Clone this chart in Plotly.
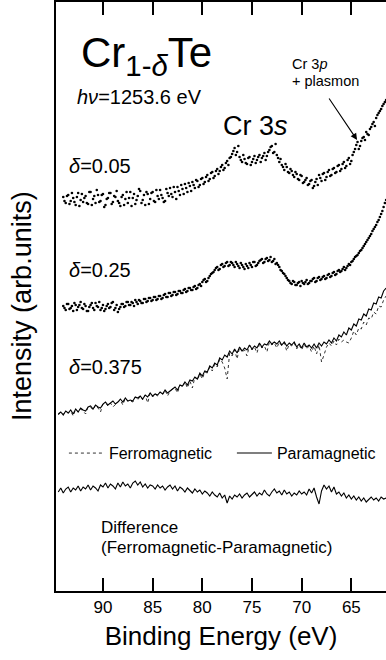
import numpy as np
import plotly.graph_objects as go

# Binding-energy grid (eV), 0.25 eV steps from 94.5 down to 61.5
energy = np.round(np.arange(94.5, 61.49, -0.25), 3)
# second (interleaved) scan for the dotted spectra, shifted by half a step
energy_b = np.round(energy - 0.125, 3)

# delta = 0.05 (dots), arb. units
d005 = [None, None,
        39.4, 38.8, 39.6, 39.0, 39.3, 38.6, 39.8, 39.1,
        38.9, 39.5, 38.7, 39.9, 39.2, 38.8, 39.6, 39.0, 39.7, 38.6,
        39.3, 39.8, 38.9, 39.4, 39.0, 38.5, 39.6, 39.2, 38.8, 39.9,
        39.3, 38.7, 39.5, 40.0, 39.1, 38.6, 39.7, 39.2, 39.9, 38.9,
        39.5, 40.1, 39.3, 39.0, 39.8, 40.3, 39.4, 39.9, 40.4, 39.6,
        40.2, 40.7, 39.9, 40.5, 40.9, 40.3, 41.0, 40.6, 41.3, 40.9,
        41.6, 41.2, 41.9, 41.5, 42.2, 42.0, 42.6, 42.3, 43.0, 43.3,
        43.7, 44.3, 43.9, 43.4, 42.9, 43.2, 42.7, 43.4, 42.9, 43.5,
        43.1, 43.6, 43.3, 43.8, 43.5, 44.1, 44.5, 43.9, 43.6, 42.9,
        42.6, 42.1, 42.4, 41.8, 42.0, 41.4, 41.7, 41.1, 41.5, 40.9,
        41.3, 40.7, 41.1, 40.5, 41.2, 41.6, 41.0, 41.8, 41.4, 42.1,
        41.6, 42.3, 41.9, 42.6, 42.2, 42.9, 42.5, 43.3, 43.0, 43.9,
        44.6, 44.2, 45.0, 45.4, 45.9, 45.6, 46.4, 46.9, 47.3, 47.8,
        48.2, 48.7, 49.1]
d005_b = [None, None,
          39.0, 39.5, 38.7, 39.8, 38.9, 39.4, 38.5, 39.7,
          39.3, 38.8, 39.9, 38.6, 39.5, 40.1, 38.9, 39.6, 38.4, 39.2,
          39.8, 38.7, 39.5, 40.0, 38.8, 39.4, 38.6, 39.9, 39.3, 38.5,
          39.7, 39.1, 40.2, 38.8, 39.6, 39.9, 38.7, 39.8, 39.0, 40.1,
          39.2, 39.6, 38.9, 40.2, 39.5, 39.7, 40.4, 39.2, 40.0, 40.6,
          39.7, 40.3, 40.8, 40.0, 40.6, 41.1, 40.4, 41.2, 40.7, 41.4,
          41.0, 41.8, 41.3, 42.0, 41.7, 42.4, 42.1, 42.8, 42.6, 43.4,
          44.0, 43.6, 44.5, 43.1, 43.6, 42.8, 43.3, 42.6, 43.2, 42.8,
          43.4, 42.9, 43.5, 43.1, 43.9, 44.4, 43.8, 44.7, 43.3, 43.2,
          42.4, 42.7, 41.9, 42.2, 41.6, 41.9, 41.2, 41.6, 40.8, 41.1,
          40.6, 41.0, 40.3, 40.9, 40.6, 41.3, 41.7, 41.1, 41.9, 41.5,
          42.2, 41.8, 42.5, 42.0, 42.7, 42.3, 43.1, 42.7, 43.6, 44.2,
          44.9, 44.5, 45.3, 45.1, 45.7, 46.2, 46.7, 46.5, 47.6, 48.0,
          48.5, 48.9, None]

# delta = 0.25 (dots)
d025 = [None, None,
        28.5, 28.1, 28.7, 28.3, 28.0, 28.6, 28.4, 28.9,
        28.2, 28.5, 28.0, 28.6, 28.3, 28.8, 28.4, 28.1, 28.6, 28.2,
        28.7, 28.4, 28.9, 28.3, 27.9, 28.4, 28.7, 28.5, 28.9, 28.6,
        28.8, 29.1, 28.7, 29.0, 28.8, 29.2, 29.0, 29.3, 29.1, 29.4,
        29.2, 29.5, 29.3, 29.7, 29.4, 29.8, 29.6, 29.9, 29.7, 30.0,
        29.8, 30.2, 30.0, 30.3, 30.1, 30.5, 30.3, 30.7, 30.9, 31.2,
        31.0, 31.5, 31.8, 32.1, 32.4, 32.2, 32.7, 32.5, 32.9, 32.6,
        32.8, 32.4, 32.7, 32.3, 32.6, 32.2, 32.5, 32.8, 32.4, 32.9,
        32.6, 33.0, 33.2, 32.9, 33.3, 33.1, 32.9, 33.2, 32.8, 32.4,
        32.0, 31.7, 31.3, 31.0, 30.7, 30.9, 30.6, 30.9, 31.0, 30.7,
        31.1, 30.8, 31.0, 31.3, 31.0, 31.4, 31.2, 31.5, 31.3, 31.7,
        31.5, 31.9, 31.7, 32.1, 32.0, 32.4, 32.3, 32.7, 32.9, 33.2,
        33.5, 33.8, 34.1, 34.5, 34.9, 35.3, 35.7, 36.2, 36.6, 37.1,
        37.7, 38.4, 39.1]
d025_b = [None, None,
          28.3, 28.7, 28.2, 28.5, 28.8, 28.1, 28.6, 28.3,
          28.7, 28.0, 28.4, 28.8, 28.1, 28.5, 28.9, 28.3, 28.0, 28.5,
          28.3, 28.8, 28.1, 28.6, 28.2, 28.7, 28.4, 28.9, 28.6, 28.9,
          28.5, 28.9, 29.1, 28.8, 29.2, 28.9, 29.3, 29.0, 29.4, 29.1,
          29.5, 29.2, 29.6, 29.4, 29.8, 29.5, 29.9, 29.6, 30.0, 29.8,
          30.1, 29.9, 30.3, 30.1, 30.4, 30.2, 30.6, 30.5, 31.1, 30.9,
          31.3, 31.7, 31.9, 32.3, 32.1, 32.6, 32.4, 32.8, 32.5, 32.9,
          32.6, 32.9, 32.5, 32.8, 32.4, 32.7, 32.3, 32.6, 32.9, 32.5,
          32.8, 33.1, 32.8, 33.2, 33.0, 33.4, 33.0, 32.7, 32.6, 32.1,
          31.8, 31.5, 31.1, 30.8, 31.0, 30.6, 30.8, 30.5, 30.8, 30.9,
          30.7, 31.0, 31.2, 30.9, 31.3, 31.1, 31.4, 31.2, 31.6, 31.4,
          31.8, 31.6, 32.0, 31.9, 32.2, 32.1, 32.5, 32.6, 33.0, 33.4,
          33.6, 34.0, 34.3, 34.7, 35.1, 35.5, 36.0, 36.4, 36.9, 37.4,
          38.0, 38.8, None]

# delta = 0.375, paramagnetic (solid)
d0375_para = [
    17.7, 17.9, 17.6, 18.0, 17.8, 18.1, 17.7, 18.2, 17.9, 18.3,
    18.1, 18.0, 18.4, 18.5, 18.2, 18.6, 18.4, 18.3, 18.7, 18.9,
    18.6, 18.8, 19.0, 18.7, 18.9, 19.2, 18.9, 19.3, 19.0, 19.1,
    19.0, 19.4, 19.3, 19.5, 19.2, 19.6, 19.4, 19.8, 19.5, 19.7,
    19.6, 19.9, 19.7, 20.1, 19.8, 20.0, 20.2, 20.4, 20.1, 20.6,
    20.5, 20.9, 20.6, 21.1, 21.0, 21.4, 21.2, 21.8, 21.5, 22.0,
    21.9, 22.5, 22.3, 22.8, 22.6, 23.3, 23.1, 23.6, 23.4, 24.0,
    23.7, 24.2, 23.8, 24.4, 24.0, 24.3, 24.1, 24.6, 24.2, 24.5,
    24.3, 24.8, 24.4, 24.7, 24.6, 25.0, 24.7, 24.9, 24.7, 25.0,
    24.6, 24.9, 24.5, 24.8, 24.6, 24.9, 24.4, 24.7, 24.3, 24.8,
    24.4, 24.6, 24.3, 24.7, 24.3, 24.8, 24.5, 24.9, 24.7, 25.1,
    24.8, 25.3, 25.0, 25.6, 25.4, 25.9, 25.6, 26.3, 26.1, 26.7,
    26.5, 27.2, 27.1, 27.7, 27.5, 28.2, 28.1, 28.8, 28.7, 29.4,
    29.3, 30.0, 30.3]

# delta = 0.375, ferromagnetic (dotted)
d0375_ferro = [
    17.6, 17.9, 17.7, 17.9, 17.8, 18.0, 17.5, 18.2, 17.9, 18.2,
    18.0, 17.7, 18.4, 18.4, 18.1, 18.6, 18.3, 17.9, 18.7, 18.8,
    18.5, 18.8, 18.4, 18.7, 18.9, 19.1, 18.6, 19.3, 19.0, 19.0,
    18.9, 19.4, 19.1, 19.5, 19.1, 19.6, 18.8, 19.8, 19.4, 19.7,
    19.5, 19.9, 19.6, 20.1, 19.5, 20.0, 20.2, 20.3, 19.8, 20.6,
    20.4, 20.9, 20.3, 21.0, 20.3, 21.4, 21.1, 21.7, 21.2, 21.9,
    21.8, 22.4, 22.0, 22.7, 22.4, 23.2, 22.9, 22.3, 21.2, 23.8,
    23.5, 24.1, 23.2, 24.4, 23.9, 24.1, 23.5, 24.6, 24.1, 24.4,
    23.8, 24.7, 24.3, 24.5, 23.9, 24.9, 24.6, 24.8, 24.3, 24.9,
    24.5, 24.8, 24.0, 24.7, 24.5, 24.8, 24.2, 24.6, 24.1, 24.7,
    24.2, 24.5, 23.9, 24.5, 23.7, 24.6, 22.9, 23.6, 24.4, 24.8,
    24.5, 25.0, 24.6, 25.2, 24.9, 25.1, 24.9, 24.8, 25.3, 26.0,
    25.6, 26.3, 26.2, 26.9, 26.6, 27.3, 27.2, 27.9, 27.7, 28.5,
    28.4, 29.1, 29.5]

# Difference (ferromagnetic - paramagnetic), offset
diff = [
    9.9, 10.3, 9.8, 10.2, 10.4, 9.9, 10.3, 10.1, 10.5, 10.0,
    10.4, 10.2, 10.6, 10.1, 10.5, 10.3, 10.0, 10.6, 10.4, 10.8,
    10.3, 10.7, 10.5, 10.2, 10.8, 10.4, 10.9, 10.5, 10.7, 10.3,
    10.8, 11.0, 10.6, 10.9, 10.4, 10.7, 10.3, 10.6, 10.5, 10.2,
    10.6, 10.3, 10.5, 10.1, 10.4, 10.6, 10.2, 10.5, 10.0, 10.4,
    10.2, 9.9, 10.3, 10.0, 9.8, 10.2, 9.9, 10.1, 9.7, 10.0,
    9.8, 9.5, 9.9, 9.6, 9.4, 9.8, 9.3, 9.6, 8.8, 9.5,
    9.2, 9.6, 9.4, 9.7, 9.3, 9.6, 9.8, 9.4, 9.7, 9.9,
    9.5, 9.8, 9.6, 10.1, 9.7, 9.5, 9.9, 10.2, 9.8, 10.0,
    9.6, 10.1, 9.7, 9.9, 9.5, 9.8, 9.6, 10.0, 9.7, 9.9,
    9.6, 10.2, 9.8, 10.3, 9.4, 8.7, 10.0, 10.6, 10.2, 10.5,
    9.9, 10.4, 9.7, 9.9, 9.5, 9.8, 9.3, 9.6, 9.2, 9.5,
    9.1, 9.4, 9.0, 9.3, 8.9, 9.2, 9.4, 9.1, 9.3, 9.0,
    9.4, 9.2, 9.3]

tick_vals = [90, 85, 80, 75, 70, 65]

FONT = "Liberation Sans, Arial, Helvetica, sans-serif"
DOT = dict(color="black", size=2.6)

fig = go.Figure()
for xs, ys in [(energy, d005), (energy_b, d005_b), (energy, d025), (energy_b, d025_b)]:
    fig.add_trace(go.Scatter(x=xs, y=ys, mode="markers", marker=DOT,
                             showlegend=False, cliponaxis=True))
fig.add_trace(go.Scatter(x=energy, y=d0375_ferro, mode="lines", name="Ferromagnetic",
                         legend="legend",
                         line=dict(color="#333333", width=1, dash="dot")))
fig.add_trace(go.Scatter(x=energy, y=d0375_para, mode="lines", name="Paramagnetic",
                         legend="legend2",
                         line=dict(color="black", width=1.1)))
fig.add_trace(go.Scatter(x=energy, y=diff, mode="lines", showlegend=False,
                         line=dict(color="black", width=1.1)))


def txt(x, y, text, size, xanchor="left"):
    fig.add_annotation(x=x, y=y, xref="x", yref="y", text=text, showarrow=False,
                       xanchor=xanchor, yanchor="middle", align="left",
                       font=dict(family=FONT, size=size, color="black"))


txt(92.45, 53.6, "Cr<sub>1-<i>δ</i></sub>Te", 42)
txt(92.85, 49.4, "<i>hν</i>=1253.6 eV", 20)
txt(78.1, 46.5, "Cr 3<i>s</i>", 27)
txt(71.2, 52.75, "Cr 3<i>p</i>", 14.5)
txt(71.2, 51.0, "+ plasmon", 14.5)
txt(93.65, 42.5, "<i>δ</i>=0.05", 20)
txt(93.65, 32.1, "<i>δ</i>=0.25", 20)
txt(93.65, 22.4, "<i>δ</i>=0.375", 20)
txt(90.4, 6.35, "Difference", 17)
txt(90.4, 4.35, "(Ferromagnetic-Paramagnetic)", 17)

fig.add_annotation(x=64.42, y=45.1, ax=67.34, ay=49.4, xref="x", yref="y",
                   axref="x", ayref="y", text="", showarrow=True,
                   arrowhead=2, arrowsize=1.2, arrowwidth=1.1, arrowcolor="black",
                   standoff=0, startstandoff=0)

# y-axis title
fig.add_annotation(x=-0.103, y=0.484, xref="paper", yref="paper",
                   text="Intensity (arb.units)", textangle=-90, showarrow=False,
                   xanchor="center", yanchor="middle",
                   font=dict(family=FONT, size=27, color="black"))

LEG = dict(orientation="h", y=0.234, xanchor="left", yanchor="middle",
           itemwidth=35, font=dict(family=FONT, size=16), bgcolor="rgba(0,0,0,0)")

fig.update_layout(
    width=386, height=660,
    margin=dict(l=56, r=0, t=2, b=69),
    paper_bgcolor="white", plot_bgcolor="white",
    font=dict(family=FONT, color="black"),
    legend=dict(LEG, x=0.024),
    legend2=dict(LEG, x=0.533),
    xaxis=dict(range=[94.73, 61.51], tickvals=tick_vals, ticks="inside", ticklen=13,
               tickwidth=1.5, tickcolor="black", showline=True, linewidth=2,
               linecolor="black", mirror="ticks", showgrid=False, zeroline=False,
               tickfont=dict(family=FONT, size=17),
               title=dict(text="Binding Energy (eV)", font=dict(family=FONT, size=26),
                          standoff=10)),
    yaxis=dict(range=[0, 58.9], showticklabels=False, ticks="", showline=True,
               linewidth=2, linecolor="black", mirror=False, showgrid=False,
               zeroline=False),
)

fig.write_html("out.html")
